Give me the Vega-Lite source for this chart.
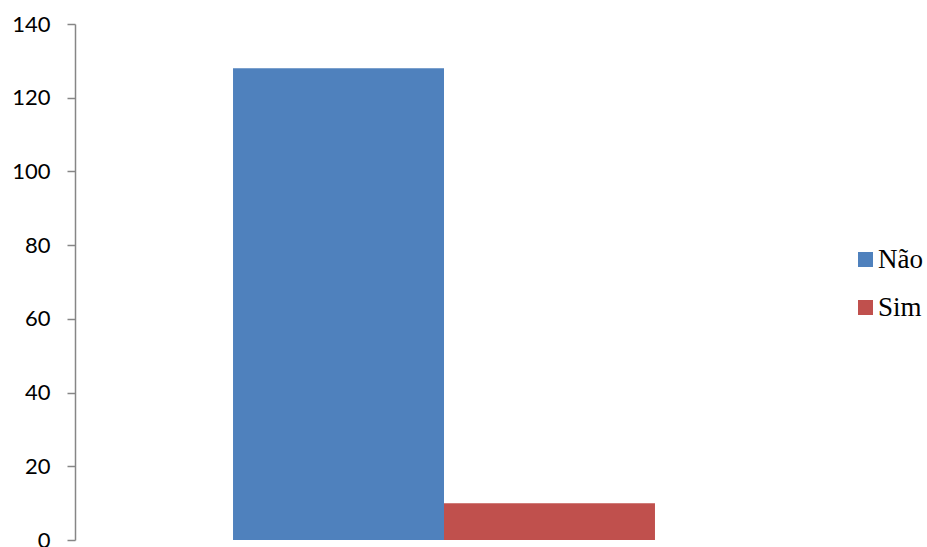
{
  "$schema": "https://vega.github.io/schema/vega-lite/v6.json",
  "width": 738,
  "height": 516,
  "autosize": {"type": "none"},
  "padding": {"left": 75, "top": 24, "right": 114, "bottom": 7},
  "background": "white",
  "config": {"view": {"stroke": null}},
  "data": {"values": [
    {"resposta": "Não", "valor": 128},
    {"resposta": "Sim", "valor": 10}
  ]},
  "mark": {"type": "bar"},
  "encoding": {
    "x": {"field": "resposta", "type": "nominal", "axis": null,
          "scale": {"paddingInner": 0, "paddingOuter": 0.749}},
    "y": {"field": "valor", "type": "quantitative",
          "scale": {"domain": [0, 140], "nice": false},
          "axis": {"title": null, "values": [0, 20, 40, 60, 80, 100, 120, 140], "grid": false,
                   "domainColor": "#868686", "domainWidth": 1.5, "tickColor": "#868686", "tickWidth": 1.5, "tickSize": 8,
                   "labelFont": "Lato", "labelFontSize": 22, "labelColor": "#000000", "labelPadding": 17}},
    "color": {"field": "resposta", "type": "nominal",
              "scale": {"domain": ["Não", "Sim"], "range": ["#4F81BD", "#C0504D"]},
              "legend": {"title": null, "orient": "none", "legendX": 777, "legendY": 222,
                         "symbolType": "square", "symbolSize": 225, "symbolStrokeWidth": 0, "symbolOpacity": 1,
                         "labelFont": "Liberation Serif", "labelFontSize": 27, "labelColor": "#000000",
                         "labelOffset": -1, "rowPadding": 20}}
  }
}
